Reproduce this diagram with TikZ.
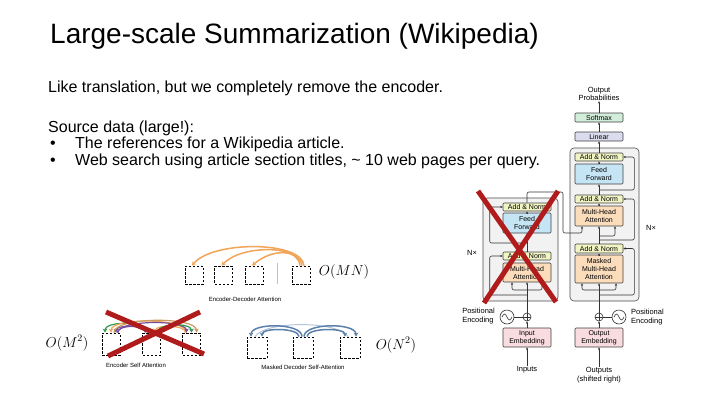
\documentclass[tikz,border=0pt]{standalone}
\usepackage{fontspec}
\setmainfont{Liberation Sans}
\usepackage{amsmath}
\usetikzlibrary{positioning}
\usetikzlibrary{arrows.meta}
\definecolor{normfill}{HTML}{F1F5C4}
\definecolor{fffill}{HTML}{C5E5F5}
\definecolor{attfill}{HTML}{FCDDBB}
\definecolor{embfill}{HTML}{F9DCE0}
\definecolor{smfill}{HTML}{D2EDD9}
\definecolor{linfill}{HTML}{DCDCEF}
\definecolor{blockfill}{HTML}{F2F2F2}
\definecolor{crossred}{HTML}{B01C1C}
\definecolor{arcorange}{HTML}{F0A558}
\definecolor{arcblue}{HTML}{5B80AA}
\definecolor{arcgreen}{HTML}{2F9A4E}
\definecolor{arcpurple}{HTML}{7A4E9E}
\definecolor{arcbrown}{HTML}{C99A5E}
\tikzset{body/.style = {font=\fontsize{16}{18}\selectfont, inner sep=0pt, anchor=base west}}
\tikzset{layer/.style = {draw=black!75, line width=0.6pt, rounded corners=1pt,
                         minimum width=48pt, inner sep=0pt, align=center,
                         font=\fontsize{7}{8}\selectfont}}
\tikzset{norm/.style = {layer, fill=normfill, minimum height=8pt}}
\tikzset{ffwd/.style = {layer, fill=fffill, minimum height=20pt}}
\tikzset{attn/.style = {layer, fill=attfill, minimum height=20pt}}
\tikzset{embed/.style = {layer, fill=embfill, minimum height=19pt}}
\tikzset{block/.style = {draw=black!70, line width=0.6pt, fill=blockfill, rounded corners=4pt}}
\tikzset{wire/.style = {draw=black!80, line width=0.6pt, rounded corners=2pt}}
\tikzset{feed/.style = {wire, -{Stealth[length=2.5pt,width=2.2pt]}}}
\tikzset{small/.style = {font=\fontsize{7.5}{8.5}\selectfont, align=center, inner sep=0pt}}
\tikzset{adder/.style = {draw=black!80, circle, line width=0.6pt, minimum size=8pt, inner sep=0pt,
    path picture={\draw[black!80, line width=0.6pt]
      (path picture bounding box.north) -- (path picture bounding box.south)
      (path picture bounding box.west) -- (path picture bounding box.east);}}}
\tikzset{wave/.style = {draw=black!80, circle, line width=0.6pt, minimum size=14pt, inner sep=0pt,
    path picture={\draw[black!80, line width=0.6pt]
      ([xshift=2pt]path picture bounding box.west) sin ++(2.5pt,3pt) cos ++(2.5pt,-3pt)
      sin ++(2.5pt,-3pt) cos ++(2.5pt,3pt);}}}
\tikzset{slot/.style = {draw, line width=0.8pt, dash pattern=on 2.5pt off 1.5pt,
                        minimum width=18pt, minimum height=18pt, inner sep=0pt}}
\tikzset{reach/.style = {line width=1.5pt, -{Stealth[length=4pt,width=4.5pt]}}}
\tikzset{caption/.style = {font=\fontsize{6}{7}\selectfont, inner sep=0pt}}
\tikzset{bigo/.style = {font=\fontsize{14}{16}\selectfont, inner sep=0pt}}
\tikzset{cross/.style = {draw=crossred, line width=5pt}}
\begin{document}
\begin{tikzpicture}[x=1pt,y=-1pt]
  \path[use as bounding box, fill=white] (0,0) rectangle (720,405);
  \node[body, font=\fontsize{28}{30}\selectfont] (title) at (50,43) {Large-scale Summarization (Wikipedia)};
  \node[body] (line1) at (48,92) {Like translation, but we completely remove the encoder.};
  \node[body] (line2) at (48,132) {Source data (large!):};
  \node[body] (dot1) at (50,148) {\textbullet};
  \node[body] (item1) at (75,148) {The references for a Wikipedia article.};
  \node[body] (dot2) at (50,165) {\textbullet};
  \node[body] (item2) at (75,165) {Web search using article section titles, \textasciitilde{} 10 web pages per query.};

  % transformer
  \draw[block] (570,148) rectangle (639,301);
  \draw[block] (483,198) rectangle (558,301);
  \node[small] (probs) at (599,94) {Output\\Probabilities};
  \node[layer, fill=smfill, minimum height=9pt] (softmax) at (599,117.5) {Softmax};
  \node[layer, fill=linfill, minimum height=9pt] (linear) at (599,136.5) {Linear};
  \node[norm] (dnorm3) at (599,157) {Add \& Norm};
  \node[ffwd] (dff) at (599,174) {Feed\\Forward};
  \node[norm] (dnorm2) at (599,199) {Add \& Norm};
  \node[attn] (dmha) at (599,216) {Multi-Head\\Attention};
  \node[norm, minimum height=9pt] (dnorm1) at (599,248.5) {Add \& Norm};
  \node[attn, minimum height=28pt] (dmmha) at (599,269) {Masked\\Multi-Head\\Attention};
  \node[adder] (dsum) at (599,317) {};
  \node[wave] (dsine) at (619,317) {};
  \node[small, align=left, anchor=west] (dpos) at (631,317) {Positional\\Encoding};
  \node[embed] (oemb) at (599,337.5) {Output\\Embedding};
  \node[small] (outputs) at (599,375) {Outputs\\(shifted right)};
  \node[small] (decn) at (651,228) {N×};

  \node[norm] (enorm2) at (527,207) {Add \& Norm};
  \node[ffwd] (eff) at (527,223) {Feed\\Forward};
  \node[norm] (enorm1) at (527,256) {Add \& Norm};
  \node[attn, minimum height=19pt] (emha) at (527,272.5) {Multi-Head\\Attention};
  \node[adder] (esum) at (527,317) {};
  \node[wave] (esine) at (507,317) {};
  \node[small, align=left, anchor=east] (epos) at (495,316) {Positional\\Encoding};
  \node[embed] (iemb) at (527,337.5) {Input\\Embedding};
  \node[small] (inputs) at (527,370) {Inputs};
  \node[small] (encn) at (472,253) {N×};

  \coordinate (eres1) at (527,295);
  \coordinate (ebr1) at (527,290);
  \coordinate (eres2) at (527,243);
  \coordinate (eout) at (563,192);
  \coordinate (ekv) at (563,233);
  \coordinate (dres1) at (599,295);
  \coordinate (dbr1) at (599,290);
  \coordinate (dres2) at (599,240);
  \coordinate (dbr2) at (599,236);
  \coordinate (dres3) at (599,190);

  \draw[feed] (inputs) -- (iemb);
  \draw[feed] (iemb) -- (esum);
  \draw[wire] (esine) -- (esum);
  \draw[feed] (esum) -- (emha);
  \draw[feed] (ebr1) -| ([xshift=-15pt]emha.south);
  \draw[feed] (ebr1) -| ([xshift=15pt]emha.south);
  \draw[feed] (eres1) -| ([xshift=-13pt]enorm1.west) -- (enorm1.west);
  \draw[feed] (emha) -- (enorm1);
  \draw[feed] (enorm1) -- (eff);
  \draw[feed] (eres2) -| ([xshift=-13pt]enorm2.west) -- (enorm2.west);
  \draw[feed] (eff) -- (enorm2);
  \draw[feed] (enorm2.north) |- (eout) -- (ekv) -| ([xshift=-17pt]dmha.south);

  \draw[feed] (outputs) -- (oemb);
  \draw[feed] (oemb) -- (dsum);
  \draw[wire] (dsine) -- (dsum);
  \draw[feed] (dsum) -- (dmmha);
  \draw[feed] (dbr1) -| ([xshift=-17pt]dmmha.south);
  \draw[feed] (dbr1) -| ([xshift=17pt]dmmha.south);
  \draw[feed] (dres1) -| ([xshift=11pt]dnorm1.east) -- (dnorm1.east);
  \draw[feed] (dmmha) -- (dnorm1);
  \draw[feed] (dnorm1) -- (dmha);
  \draw[feed] (dbr2) -| ([xshift=16pt]dmha.south);
  \draw[feed] (dres2) -| ([xshift=11pt]dnorm2.east) -- (dnorm2.east);
  \draw[feed] (dmha) -- (dnorm2);
  \draw[feed] (dnorm2) -- (dff);
  \draw[feed] (dres3) -| ([xshift=11pt]dnorm3.east) -- (dnorm3.east);
  \draw[feed] (dff) -- (dnorm3);
  \draw[feed] (dnorm3) -- (linear);
  \draw[feed] (linear) -- (softmax);
  \draw[feed] (softmax) -- (probs);

  \draw[cross] (478,191) -- (556,302);
  \draw[cross] (558,191) -- (484,303);

  % attention patterns
  \node[slot] (ed1) at (194,275) {};
  \node[slot] (ed2) at (223.5,275) {};
  \node[slot] (ed3) at (254,275) {};
  \node[slot] (ed4) at (301,275) {};
  \draw[gray!50, line width=0.8pt] (277,263) -- (277,284);
  \foreach \t/\s/\h in {ed1/3/25, ed2/1/21, ed3/-1/17}
    \draw[reach, arcorange] ([xshift=\s pt]ed4.north) .. controls +(-2,-\h) and +(20,-\h) .. ([xshift=-2pt]\t.north);
  \node[caption] (edcap) at (245,299) {Encoder-Decoder Attention};
  \node[bigo] (omn) at (344,272) {$O(MN)$};

  \node[slot, minimum height=22pt] (es1) at (111,344) {};
  \node[slot, minimum height=22pt] (es2) at (151.5,344) {};
  \node[slot, minimum height=22pt] (es3) at (191.5,344) {};
  \foreach \a/\b/\p/\q/\c/\h in {es2/es1/-3/-6/arcgreen/12, es3/es1/-5/0/arcorange/15,
      es2/es1/-6/5/arcpurple/8, es1/es2/6/-4/arcpurple/8, es3/es2/-6/4/arcorange/8,
      es1/es3/7/-5/arcpurple/13, es2/es3/6/0/arcgreen/10, es1/es3/3/5/arcbrown/16}
    \draw[reach, line width=1.2pt, \c] ([xshift=\p pt]\a.north) .. controls +(0,-\h) and +(0,-\h) .. ([xshift=\q pt]\b.north);
  \node[caption] (escap) at (136,365) {Encoder Self Attention};
  \node[bigo] (omm) at (67,343) {$O(M^2)$};
  \draw[cross] (106,312) -- (204,354);
  \draw[cross] (200,312) -- (108,356);

  \node[slot, minimum width=20pt, minimum height=21pt] (md1) at (257,347.5) {};
  \node[slot, minimum width=20pt, minimum height=21pt] (md2) at (303,347.5) {};
  \node[slot, minimum width=20pt, minimum height=21pt] (md3) at (350,347.5) {};
  \draw[arcblue!45, line width=1pt] ([xshift=-2pt]md1.north) .. controls +(10,-16) and +(-10,-16) .. ([xshift=-2pt]md3.north);
  \foreach \a/\b/\p/\q/\h in {md2/md1/-4/5/9, md2/md1/-1/-6/14, md2/md3/4/-5/9, md2/md3/1/6/14}
    \draw[reach, arcblue] ([xshift=\p pt]\a.north) .. controls +(0,-\h) and +(0,-\h) .. ([xshift=\q pt]\b.north);
  \node[caption] (mdcap) at (303,367) {Masked Decoder Self-Attention};
  \node[bigo] (onn) at (396,345) {$O(N^2)$};
\end{tikzpicture}
\end{document}
